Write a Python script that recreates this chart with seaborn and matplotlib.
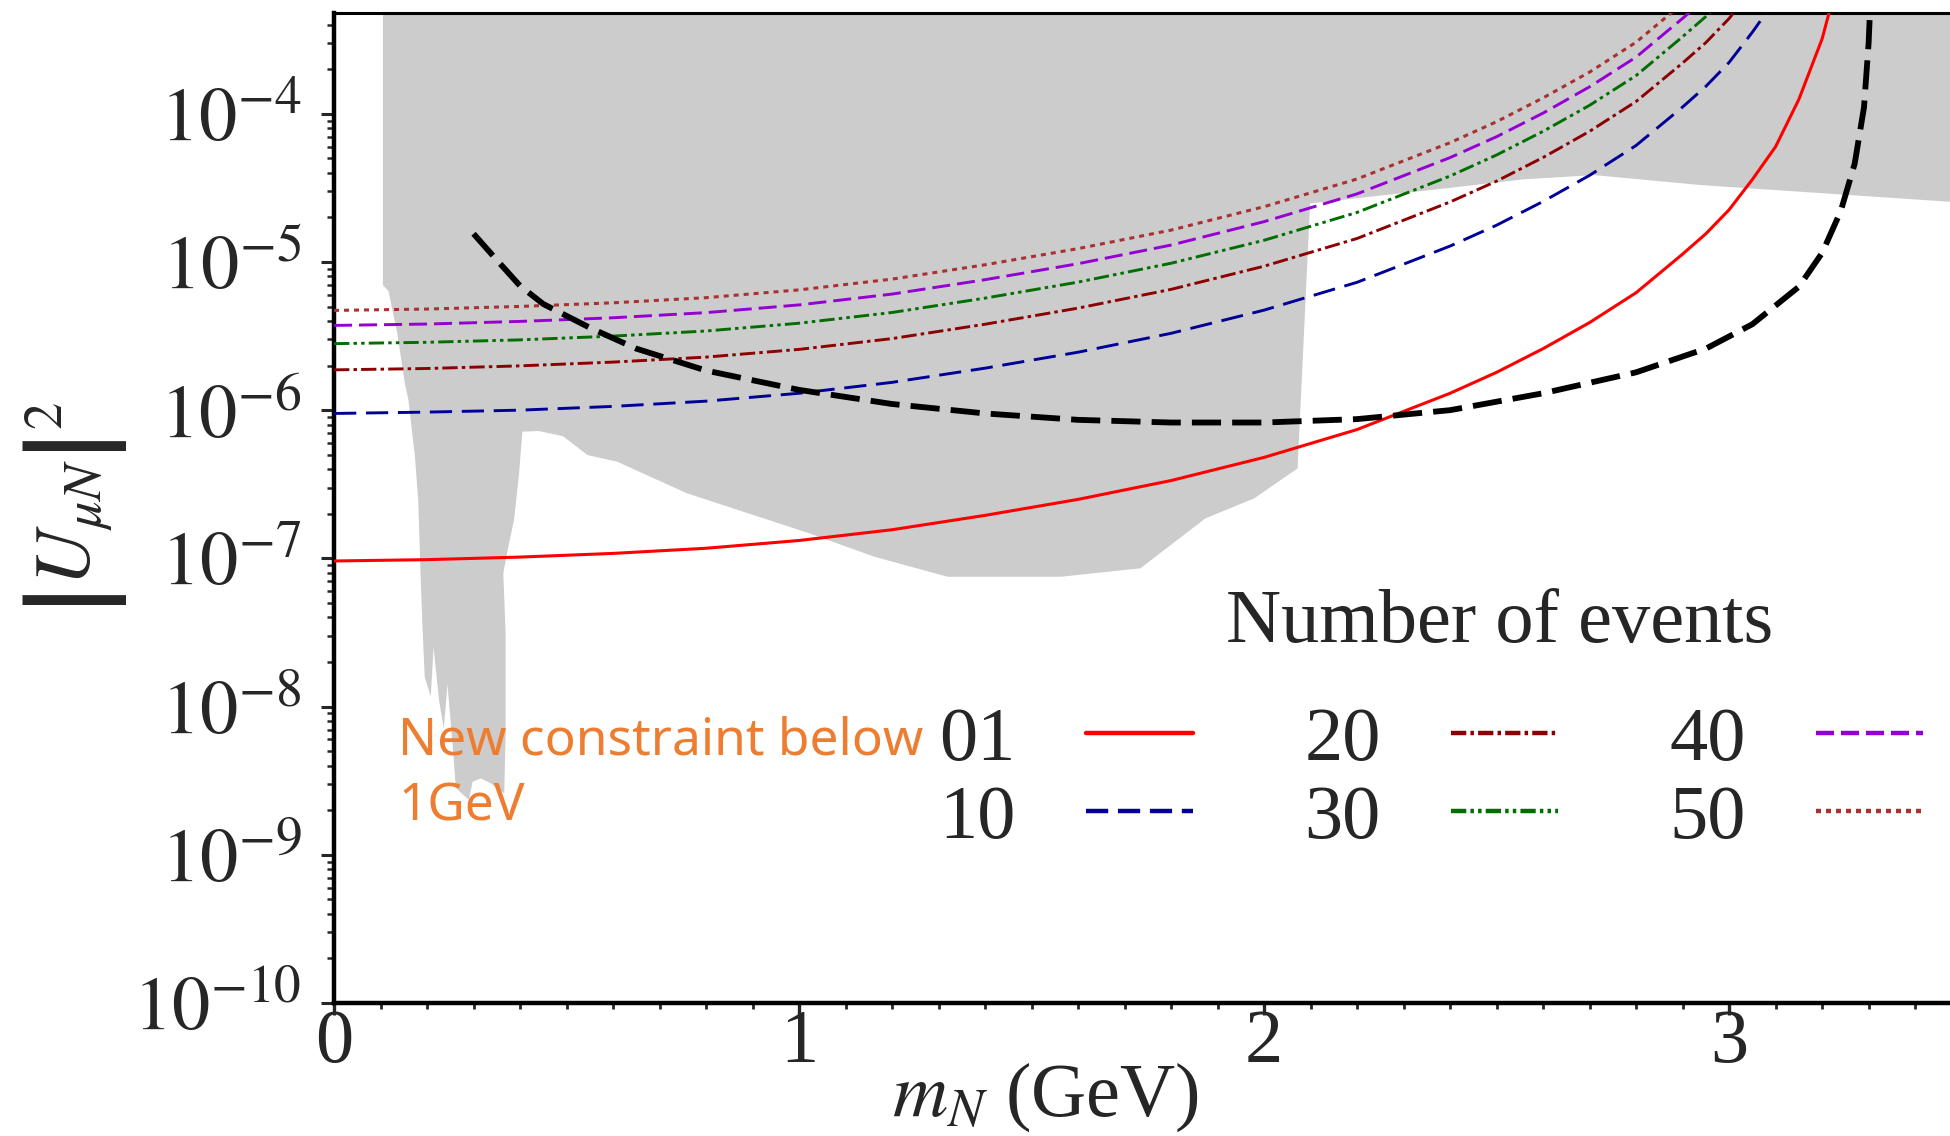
import numpy as np
import pandas as pd
import matplotlib
matplotlib.use("Agg")
import matplotlib.pyplot as plt
import seaborn as sns
from matplotlib.ticker import FixedLocator, FixedFormatter, LogLocator, MultipleLocator, NullFormatter

# ---------------- data ----------------
# common mass grid (GeV); each series uses the leading part of it
mass = [0.0, 0.2, 0.4, 0.6, 0.8, 1.0, 1.2, 1.4, 1.6, 1.8, 2.0, 2.2, 2.4, 2.5,
        2.6, 2.7, 2.8, 2.9, 2.95, 3.0, 3.05, 3.1, 3.15, 3.2, 3.22]

# |U_muN|^2 in units of 1e-6 for each number of events
events_01 = [0.096, 0.098, 0.102, 0.108, 0.117, 0.132, 0.156, 0.195, 0.25, 0.335,
             0.48, 0.74, 1.30, 1.8, 2.6, 3.9, 6.2, 11.3, 15.5, 22.5, 36, 60, 125, 320, 550]
events_10 = [0.95, 0.97, 1.0, 1.06, 1.15, 1.30, 1.54, 1.92, 2.46, 3.30, 4.73, 7.29,
             12.8, 17.7, 25.6, 38.4, 61.1, 111, 153, 222, 355, 591]
events_20 = [1.87, 1.91, 1.99, 2.11, 2.28, 2.57, 3.04, 3.80, 4.88, 6.53, 9.36, 14.4,
             25.4, 35.1, 50.7, 76.1, 121, 220, 302, 439, 702]
events_30 = [2.81, 2.87, 2.98, 3.16, 3.42, 3.86, 4.56, 5.70, 7.31, 9.80, 14.0, 21.6,
             38.0, 52.7, 76.1, 114, 181, 331, 453, 658]
events_40 = [3.73, 3.81, 3.97, 4.20, 4.55, 5.13, 6.07, 7.59, 9.73, 13.0, 18.7, 28.8,
             50.6, 70.0, 101, 152, 241, 440, 603]
events_50 = [4.71, 4.81, 5.01, 5.30, 5.74, 6.48, 7.66, 9.57, 12.3, 16.4, 23.6, 36.3,
             63.8, 88.4, 128, 191, 304, 555]

# black thick dashed bound
bound_mass = [0.30, 0.35, 0.40, 0.45, 0.55, 0.65, 0.8, 1.0, 1.2, 1.4, 1.6, 1.8, 2.0,
              2.2, 2.4, 2.6, 2.8, 2.95, 3.05, 3.15, 3.2, 3.24, 3.27, 3.29, 3.30, 3.305]
bound_u2 = [15.5, 10.3, 6.9, 5.2, 3.6, 2.6, 1.85, 1.37, 1.10, 0.95, 0.86, 0.825, 0.825,
            0.87, 1.0, 1.3, 1.8, 2.6, 3.8, 6.8, 11.5, 22, 46, 110, 300, 700]

# excluded (grey) region outline: mass and log10(|U|^2)
region_mass = [0.105, 3.6, 3.6, 3.475, 3.047, 2.938, 2.71, 2.556, 2.392, 2.099, 2.072,
               1.979, 1.874, 1.734, 1.564, 1.319, 1.162, 1.022, 0.759, 0.609, 0.545,
               0.492, 0.44, 0.405, 0.398, 0.387, 0.372, 0.364, 0.369, 0.369, 0.366,
               0.337, 0.316, 0.298, 0.29, 0.262, 0.256, 0.244, 0.236, 0.226, 0.214,
               0.208, 0.195, 0.19, 0.186, 0.181, 0.174, 0.160, 0.152, 0.136, 0.117, 0.105]
region_log_u2 = [-2.5, -2.5, -4.62, -4.594, -4.504, -4.481, -4.414, -4.443, -4.503, -4.605,
                 -6.393, -6.595, -6.73, -7.067, -7.124, -7.124, -6.989, -6.831, -6.561,
                 -6.348, -6.303, -6.175, -6.141, -6.145, -6.426, -6.741, -6.966, -7.101,
                 -7.506, -8.181, -8.586, -8.518, -8.485, -8.507, -8.63, -8.55, -8.3,
                 -7.85, -8.15, -7.96, -7.60, -7.934, -7.80, -7.45, -7.1, -6.607, -6.314,
                 -5.932, -5.815, -5.48, -5.196, -5.156]

series_labels = ["01", "10", "20", "30", "40", "50"]
series_values = [events_01, events_10, events_20, events_30, events_40, events_50]
series_colors = ["#ff0000", "#000096", "#8b0000", "#006e00", "#9400d3", "#a83232"]
series_styles = ["-", (0, (16, 7)), (0, (11, 3, 2.5, 3)), (0, (11, 3, 2.5, 3, 2.5, 3)),
                 (0, (13, 5)), (0, (3.6, 3.6))]
series_widths = [2.2, 2.1, 2.1, 2.1, 2.1, 2.2]

ytick_vals = [1e-10, 1e-9, 1e-8, 1e-7, 1e-6, 1e-5, 1e-4]
ytick_labels = [r"$10^{-10}$", r"$10^{-9}$", r"$10^{-8}$", r"$10^{-7}$",
                r"$10^{-6}$", r"$10^{-5}$", r"$10^{-4}$"]
xtick_vals = [0, 1, 2, 3]
xtick_labels = ["0", "1", "2", "3"]

# ---------------- style ----------------
sns.set_style("ticks")
plt.rcParams["font.family"] = ["Liberation Serif", "DejaVu Serif"]
plt.rcParams["mathtext.fontset"] = "stix"
plt.rcParams["lines.scale_dashes"] = False

fig = plt.figure(figsize=(19.5, 11.36), dpi=100)
ax = fig.add_axes([0.1713, 0.1171, 0.8287, 0.8711])

# grey excluded region
ax.fill(region_mass, 10.0 ** np.array(region_log_u2), color="#cccccc", lw=0, zorder=0)

unit = 1e-6
handles = []
for vals, lab, col, ls, lw in zip(series_values, series_labels, series_colors,
                                  series_styles, series_widths):
    xs = mass[:len(vals)]
    ys = np.array(vals) * unit
    sns.lineplot(x=xs, y=ys, ax=ax, color=col, linestyle=ls, lw=lw, legend=False, zorder=3)
    handles.append(ax.lines[-1])

sns.lineplot(x=bound_mass, y=np.array(bound_u2) * unit, ax=ax, color="black",
             linestyle=(0, (21, 8)), lw=4.2, legend=False, zorder=4)

ax.set_yscale("log")
ax.set_xlim(0, 3.475)
ax.set_ylim(1e-10, 10 ** -3.323)

ax.yaxis.set_major_locator(FixedLocator(ytick_vals))
ax.yaxis.set_major_formatter(FixedFormatter(ytick_labels))
ax.yaxis.set_minor_locator(LogLocator(base=10, subs=np.arange(2, 10), numticks=30))
ax.yaxis.set_minor_formatter(NullFormatter())
ax.xaxis.set_major_locator(FixedLocator(xtick_vals))
ax.xaxis.set_major_formatter(FixedFormatter(xtick_labels))
ax.xaxis.set_minor_locator(MultipleLocator(0.1))

ax.tick_params(axis="y", which="major", direction="out", length=9.5, width=2.2,
               labelsize=55, pad=14, left=True, right=False)
ax.tick_params(axis="y", which="minor", direction="out", length=5, width=1.8,
               left=True, right=False)
ax.tick_params(axis="x", which="major", direction="out", length=8.6, width=2.4,
               labelsize=55, pad=-4, bottom=True, top=False)
ax.tick_params(axis="x", which="minor", direction="out", length=4.3, width=2.0,
               bottom=True, top=False)

for side in ["left", "bottom"]:
    ax.spines[side].set_linewidth(3.2)
ax.spines["top"].set_linewidth(2.2)
ax.spines["right"].set_visible(False)
for s in ax.spines.values():
    s.set_color("black")

ax.set_ylabel(r"$\left|\overset{\ }{\underset{\ }{U_{\mu N}}}\right|^2$", fontsize=56)
ax.yaxis.label.set_va("center")
ax.yaxis.set_label_coords(-0.160, 0.5)
ax.set_xlabel(r"$m_N$ (GeV)", fontsize=55)
ax.xaxis.label.set_va("center")
ax.xaxis.set_label_coords(0.44, -0.095)

leg = ax.legend(handles, series_labels, ncol=3, markerfirst=False, frameon=False,
                loc="upper left", bbox_to_anchor=(0.3745, 0.30), borderpad=0,
                borderaxespad=0, handlelength=1.40, handletextpad=0.92,
                columnspacing=1.46, labelspacing=0.12,
                prop={"family": "Liberation Serif", "size": 55})
for ln in leg.get_lines():
    ln.set_linewidth(3.2)

ax.text(0.7215, 0.383, "Number of events", transform=ax.transAxes, ha="center",
        va="center", fontsize=55, family="Liberation Serif")

ax.text(0.0396, 0.184, "New constraint below\n1GeV", transform=ax.transAxes,
        ha="left", va="baseline", fontsize=37, family=["Noto Sans", "DejaVu Sans"],
        color="#ED7D31", linespacing=1.39, zorder=5)

fig.savefig("out.png", dpi=100)
